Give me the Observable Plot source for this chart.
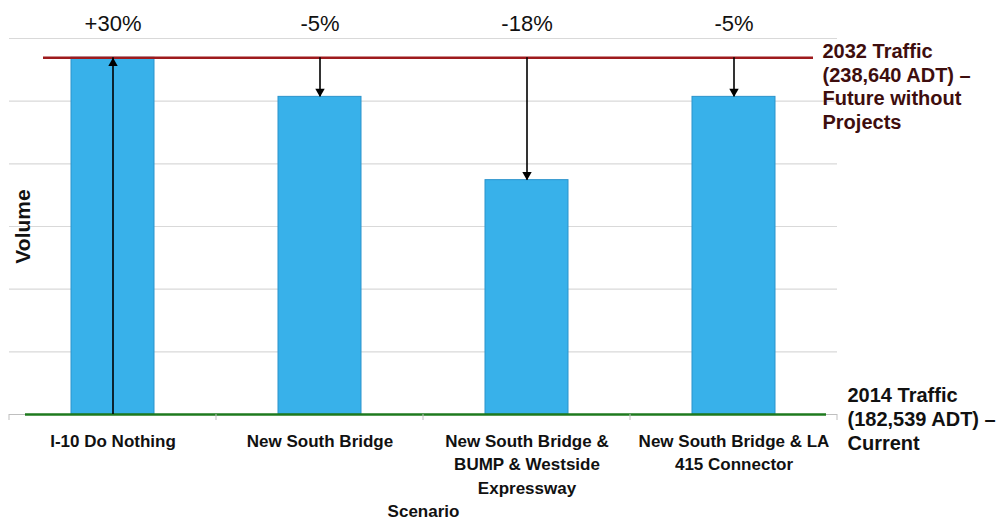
<!DOCTYPE html>
<html>
<head>
<meta charset="utf-8">
<script src="https://cdn.jsdelivr.net/npm/d3@7"></script>
<script src="https://cdn.jsdelivr.net/npm/@observablehq/plot@0.6"></script>
<style>
  html, body { margin: 0; padding: 0; background: #ffffff; }
  #chart { width: 1002px; height: 519px; }
</style>
</head>
<body>
<div id="chart"></div>
<script>
// Scenario names (as used on the band scale) and their wrapped axis labels
const scenarios = [
  "I-10 Do Nothing",
  "New South Bridge",
  "New South Bridge & BUMP & Westside Expressway",
  "New South Bridge & LA 415 Connector"
];
const scenarioLabels = [
  "I-10 Do Nothing",
  "New South Bridge",
  "New South Bridge &\nBUMP & Westside\nExpressway",
  "New South Bridge & LA\n415 Connector"
];

// Traffic volume (ADT) for each scenario
const volumes = [238640, 232500, 219400, 232500];

// Change labels and the reference volume each arrow starts from
const changeLabels = ["+30%", "-5%", "-18%", "-5%"];
const arrowFrom = [182539, 238640, 238640, 238640];

// Reference traffic levels
const traffic2014 = 182539;
const traffic2032 = 238640;
const label2014 = "2014 Traffic\n(182,539 ADT) –\nCurrent";
const label2032 = "2032 Traffic\n(238,640 ADT) –\nFuture without\nProjects";

// Vertical extent of the volume axis and number of grid intervals
const volumeMax = 241680;
const gridIntervals = 6;

const rows = scenarios.map((s, i) => ({
  scenario: s,
  label: scenarioLabels[i],
  volume: volumes[i],
  change: changeLabels[i],
  from: arrowFrom[i]
}));
const gridValues = d3.range(gridIntervals + 1)
  .map(k => traffic2014 + k * (volumeMax - traffic2014) / gridIntervals);

const font = "'Liberation Sans', Arial, Helvetica, sans-serif";

const chart = Plot.plot({
  width: 1002,
  height: 519,
  marginTop: 38,
  marginBottom: 105,
  marginLeft: 9,
  marginRight: 165,
  style: { fontFamily: font, background: "#ffffff", overflow: "visible" },
  x: { domain: scenarios, paddingInner: 0.6, paddingOuter: 0.3, axis: null },
  y: { domain: [traffic2014, volumeMax], axis: null },
  marks: [
    // horizontal gridlines
    Plot.ruleY(gridValues.slice(1), { stroke: "#d9d9d9", strokeWidth: 1.2 }),
    // category axis line
    Plot.ruleY([traffic2014], { stroke: "#bfbfbf", strokeWidth: 1 }),
    // scenario bars
    Plot.barY(rows, {
      x: "scenario",
      y1: () => traffic2014,
      y2: "volume",
      fill: "#38b1ea",
      stroke: "#2b93cc",
      strokeWidth: 1
    }),
    // reference traffic lines
    Plot.ruleY([traffic2032], { stroke: "#9e1a1d", strokeWidth: 2.5, insetLeft: 34, insetRight: 24 }),
    Plot.ruleY([traffic2014], { stroke: "#1e7a1e", strokeWidth: 2.5, insetLeft: 16, insetRight: 11 }),
    // change arrows: shafts
    Plot.ruleX(rows, { x: "scenario", y1: "from", y2: "volume", stroke: "#000000", strokeWidth: 1.6 }),
    // change arrows: heads
    Plot.dot(rows, {
      filter: d => d.volume > d.from,
      x: "scenario", y: "volume", symbol: "triangle", r: 3.5,
      fill: "#000000", stroke: null, dy: 5.4
    }),
    Plot.dot(rows, {
      filter: d => d.volume < d.from,
      x: "scenario", y: "volume", symbol: "triangle", rotate: 180, r: 3.5,
      fill: "#000000", stroke: null, dy: -5.4
    }),
    // percent change labels above the chart
    Plot.text(rows, {
      x: "scenario", text: "change", frameAnchor: "top", dy: -23,
      fontSize: 22, fill: "#111111"
    }),
    // scenario labels
    Plot.text(rows, {
      x: "scenario", text: "label", frameAnchor: "bottom", lineAnchor: "top",
      dy: 16, fontSize: 17, fontWeight: "bold", lineHeight: 1.37, fill: "#111111"
    }),
    // reference line annotations
    Plot.text([label2032], {
      y: () => traffic2032, text: d => d, frameAnchor: "right", textAnchor: "start",
      dx: -15, dy: 28, fontSize: 20, fontWeight: "bold", lineHeight: 1.2, fill: "#3e0e0e"
    }),
    Plot.text([label2014], {
      y: () => traffic2014, text: d => d, frameAnchor: "right", textAnchor: "start",
      dx: 10, dy: 4, fontSize: 20, fontWeight: "bold", lineHeight: 1.2, fill: "#111111"
    }),
    // axis titles
    Plot.text(["Volume"], {
      text: d => d, frameAnchor: "left", textAnchor: "middle", rotate: -90, dx: 14,
      fontSize: 21, fontWeight: "bold", fill: "#111111"
    }),
    Plot.text(["Scenario"], {
      text: d => d, frameAnchor: "bottom", dy: 102,
      fontSize: 17, fontWeight: "bold", fill: "#111111"
    })
  ]
});

// small ticks on the category axis at the band boundaries
const sx = chart.scale("x");
const sy = chart.scale("y");
const pad = (sx.step - sx.bandwidth) / 2;
const edges = scenarios.map(s => sx.apply(s) - pad);
edges.push(sx.apply(scenarios[scenarios.length - 1]) + sx.bandwidth + pad);
const y0 = sy.apply(traffic2014);
d3.select(chart).append("g")
  .attr("stroke", "#bfbfbf")
  .attr("stroke-width", 1)
  .selectAll("line")
  .data(edges)
  .join("line")
  .attr("x1", d => d).attr("x2", d => d)
  .attr("y1", y0).attr("y2", y0 + 6);

document.getElementById("chart").appendChild(chart);
</script>
</body>
</html>
